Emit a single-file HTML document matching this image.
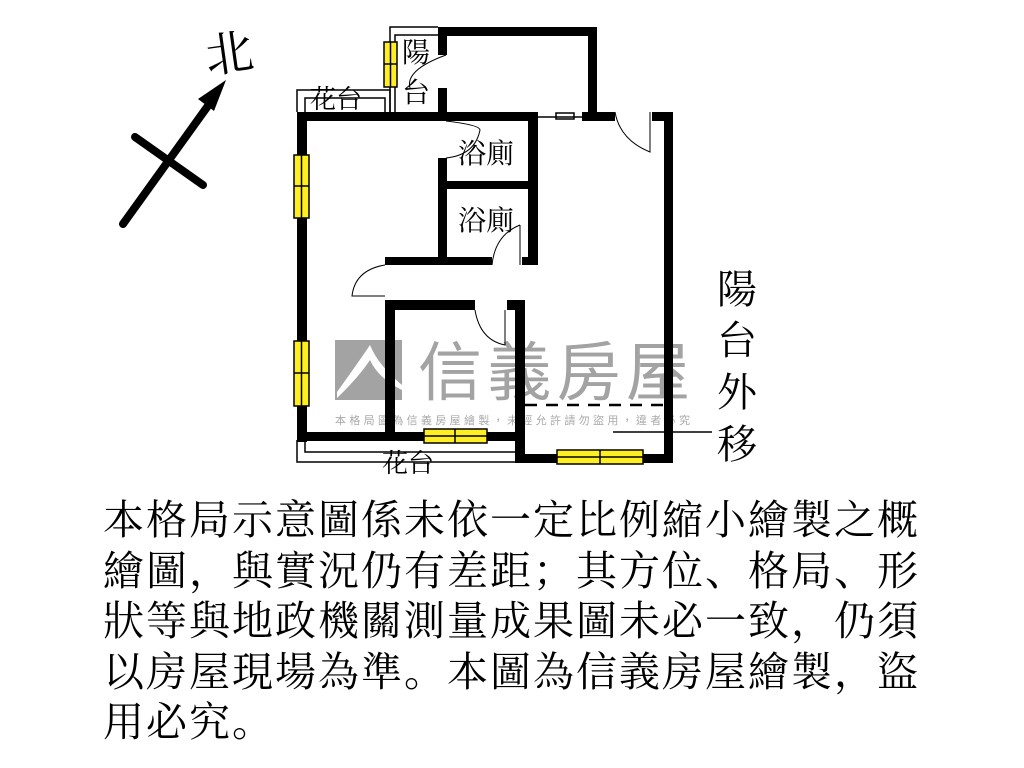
<!DOCTYPE html>
<html><head><meta charset="utf-8"><style>
html,body{margin:0;padding:0;background:#fff;width:1024px;height:768px;overflow:hidden}
.p{position:absolute;left:103px;top:495px;font-family:"Liberation Serif","Noto Serif CJK SC",serif;font-size:41px;line-height:50.5px;letter-spacing:2px;color:#000;white-space:nowrap}
</style></head><body>
<svg width="1024" height="768" style="position:absolute;left:0;top:0" xmlns="http://www.w3.org/2000/svg">
<rect x="335" y="340" width="67" height="60" fill="#a3a3a3"/>
<path d="M337 392 Q360 360 370 345 Q378 365 402 385 L402 390 Q378 378 370 360 Q358 378 337 398Z" fill="#fff"/>
<text x="418" y="395" font-family="Noto Sans CJK TC, sans-serif" font-size="64" fill="#a3a3a3" textLength="272">信義房屋</text>
<text x="335" y="424" font-family="Noto Sans CJK TC, sans-serif" font-size="11" fill="#aaa" textLength="355">本格局圖為信義房屋繪製，未經允許請勿盜用，違者必究</text>
<g stroke="#000" stroke-width="8" stroke-linecap="round">
<line x1="123" y1="224" x2="210" y2="103"/>
<line x1="135" y1="137" x2="203" y2="185"/>
</g>
<polygon points="226,80 198,99 214,111" fill="#000"/>
<text x="205" y="70" font-family="Liberation Serif, Noto Serif CJK SC, serif" font-size="48" transform="rotate(-8 230 52)">北</text>
<g fill="none" stroke="#000" stroke-width="1.5">
<path d="M297 112 V90 H390 V112"/>
<path d="M305 112 V98 H385 V112"/>
<path d="M390 112 V27 H438"/>
<path d="M395 112 V35 H438"/>
<path d="M297 440 V462 H515"/>
<path d="M305 440 V452 H515"/>
<line x1="538" y1="117" x2="582" y2="117"/>
<rect x="556" y="113" width="18" height="6"/>
<line x1="613" y1="432" x2="712" y2="432"/>
</g>
<line x1="525" y1="405" x2="665" y2="405" stroke="#000" stroke-width="2.5" stroke-dasharray="12,9"/>
<g fill="none" stroke="#000" stroke-width="1">
<path d="M446 55 Q405 70 410 88"/>
<path d="M446 121 Q480 125 480 130 Q475 155 446 158"/>
<path d="M615 112 Q620 140 650 152 L650 112"/>
<path d="M492 265 Q495 235 520 225"/>
<line x1="520" y1="225" x2="520" y2="265"/>
<path d="M385 265 Q355 270 352 296 L385 296"/>
<path d="M475 310 Q480 340 505 345 L505 310"/>
</g>
<g fill="#000">
<rect x="297" y="112" width="241" height="9"/>
<rect x="582" y="112" width="33" height="9"/>
<rect x="652" y="112" width="21" height="9"/>
<rect x="664" y="112" width="9" height="351"/>
<rect x="297" y="112" width="10" height="330"/>
<rect x="438" y="27" width="159" height="9"/>
<rect x="588" y="27" width="9" height="92"/>
<rect x="438" y="27" width="9" height="28"/>
<rect x="438" y="88" width="9" height="30"/>
<rect x="438" y="158" width="9" height="107"/>
<rect x="447" y="181" width="90" height="8"/>
<rect x="528" y="112" width="10" height="153"/>
<rect x="385" y="257" width="107" height="8"/>
<rect x="522" y="257" width="16" height="8"/>
<rect x="385" y="300" width="90" height="10"/>
<rect x="507" y="300" width="18" height="10"/>
<rect x="385" y="300" width="10" height="140"/>
<rect x="515" y="300" width="10" height="163"/>
<rect x="297" y="432" width="228" height="9"/>
<rect x="515" y="454" width="158" height="9"/>
</g>
<g fill="#ffee22" stroke="#000" stroke-width="1.5">
<rect x="384" y="42" width="13" height="45"/><line x1="390.5" y1="42" x2="390.5" y2="87"/><line x1="384" y1="64" x2="397" y2="64"/>
<rect x="294" y="155" width="15" height="63"/><line x1="301.5" y1="155" x2="301.5" y2="218"/><line x1="294" y1="186" x2="309" y2="186"/>
<rect x="294" y="341" width="15" height="65"/><line x1="301.5" y1="341" x2="301.5" y2="406"/><line x1="294" y1="373" x2="309" y2="373"/>
<rect x="424" y="429" width="63" height="14"/><line x1="424" y1="436" x2="487" y2="436"/><line x1="455" y1="429" x2="455" y2="443"/>
<rect x="557" y="450" width="86" height="14"/><line x1="557" y1="457" x2="643" y2="457"/><line x1="600" y1="450" x2="600" y2="464"/>
</g>
<g font-family="Liberation Serif, Noto Serif CJK SC, serif" fill="#000">
<text x="310" y="108" font-size="26">花台</text>
<text x="402" y="62" font-size="28">陽</text>
<text x="402" y="102" font-size="28">台</text>
<text x="458" y="163" font-size="28">浴廁</text>
<text x="458" y="230" font-size="28">浴廁</text>
<text x="382" y="472" font-size="26">花台</text>
<text x="717" y="303" font-size="40">陽</text>
<text x="717" y="354" font-size="40">台</text>
<text x="717" y="406" font-size="40">外</text>
<text x="717" y="458" font-size="40">移</text>
</g>
</svg>
<div class="p">本格局示意圖係未依一定比例縮小繪製之概<br>繪圖，與實況仍有差距；其方位、格局、形<br>狀等與地政機關測量成果圖未必一致，仍須<br>以房屋現場為準。本圖為信義房屋繪製，盜<br>用必究。</div>
</body></html>
